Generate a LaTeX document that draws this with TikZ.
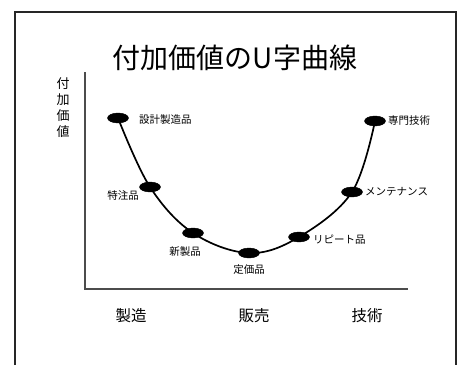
\documentclass[tikz,border=0pt]{standalone}
\usepackage{fontspec}
\setmainfont{Noto Sans CJK JP}
\usetikzlibrary{shapes.geometric}
\begin{document}
\begin{tikzpicture}[x=1pt,y=-1pt,
  dot/.style={ellipse,fill=black,draw=black,minimum width=21pt,minimum height=10pt,inner sep=0pt},
  small/.style={font=\fontsize{10.5}{11}\selectfont,inner sep=0pt},
  cat/.style={font=\fontsize{15.5}{16}\selectfont,inner sep=0pt},
  axis/.style={draw=black!70,line width=1.2pt}]
\useasboundingbox (0,0) rectangle (462,365);
% frame
\coordinate (f1) at (15,365);
\coordinate (f2) at (15,12);
\coordinate (f3) at (456,12);
\coordinate (f4) at (456,365);
\draw[line width=1.6pt,black!85] (f1) -- (f2) -- (f3) -- (f4);
% title
\node[font=\fontsize{28}{30}\selectfont,inner sep=0pt] (title) at (235,58) {付加価値のU字曲線};
% y label
\node[align=center,inner sep=0pt,font=\fontsize{13}{16}\selectfont] (ylab) at (63,108) {付\\加\\価\\値};
% axes
\coordinate (ytop) at (85,72);
\coordinate (orig) at (85,289);
\coordinate (xend) at (408,289);
\draw[axis] (ytop) -- (orig) -- (xend);
% points
\node[dot] (p1) at (118,118) {};
\node[dot] (p2) at (150,187) {};
\node[dot] (p3) at (193,233) {};
\node[dot] (p4) at (249,253) {};
\node[dot] (p5) at (299,237) {};
\node[dot] (p6) at (352,192) {};
\node[dot] (p7) at (375,121) {};
\draw[line width=1.7pt] plot[smooth,tension=0.6] coordinates {(p1.center) (p2.center) (p3.center) (p4.center) (p5.center) (p6.center) (p7.center)};
% labels
\node[small,anchor=west] (l1) at (139,120) {設計製造品};
\node[small] (l2) at (123,195) {特注品};
\node[small] (l3) at (185,252) {新製品};
\node[small] (l4) at (249,270) {定価品};
\node[small,anchor=west] (l5) at (313,240) {リピート品};
\node[small,anchor=west] (l6) at (365,192) {メンテナンス};
\node[small,anchor=west] (l7) at (388,121) {専門技術};
% categories
\node[cat] (c1) at (131,316) {製造};
\node[cat] (c2) at (254,316) {販売};
\node[cat] (c3) at (367,316) {技術};
\end{tikzpicture}
\end{document}
